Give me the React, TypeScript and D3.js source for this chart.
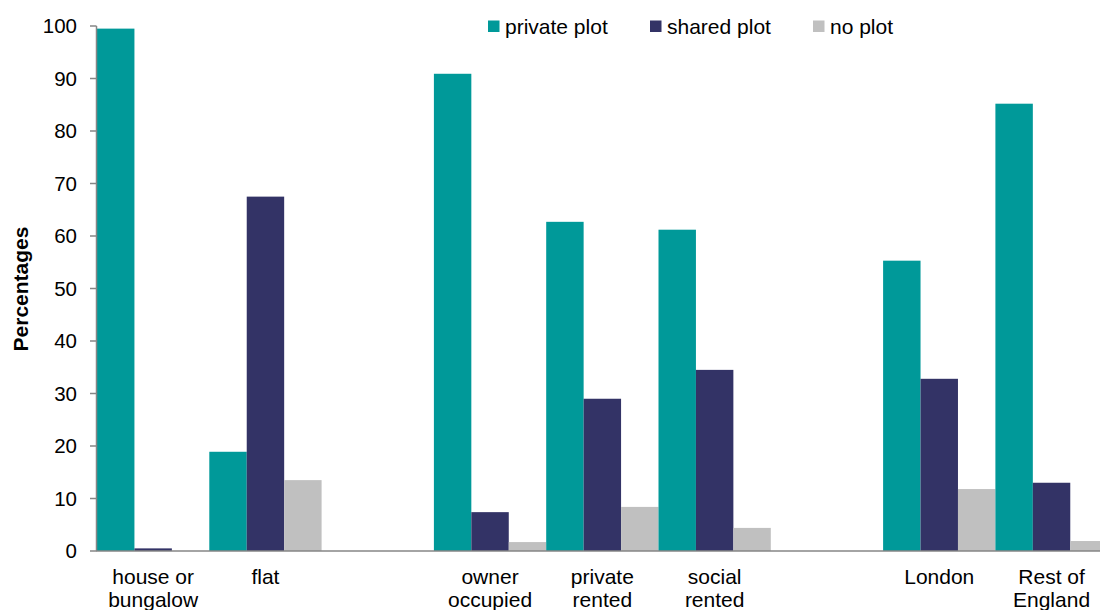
import React from "react";
import * as d3 from "d3";

const categories: string[][] = [
  ["house or", "bungalow"],
  ["flat"],
  [],
  ["owner", "occupied"],
  ["private", "rented"],
  ["social", "rented"],
  [],
  ["London"],
  ["Rest of", "England"],
];
const categoryKeys = ["house", "flat", "gap1", "owner", "privrent", "social", "gap2", "london", "rest"];
const seriesNames = ["private plot", "shared plot", "no plot"];
const seriesColors = ["#009999", "#333366", "#C0C0C0"];
const privatePlot: (number | null)[] = [99.5, 18.9, null, 90.9, 62.7, 61.2, null, 55.3, 85.2];
const sharedPlot: (number | null)[] = [0.5, 67.5, null, 7.4, 29.0, 34.5, null, 32.8, 13.0];
const noPlot: (number | null)[] = [0, 13.5, null, 1.7, 8.4, 4.4, null, 11.8, 1.9];
const yTicks = [0, 10, 20, 30, 40, 50, 60, 70, 80, 90, 100];

const W = 1100;
const H = 610;
const left = 97;
const slot = 112.3;
const FONT = "'Liberation Sans', Arial, sans-serif";

export default function App() {
  const x = d3.scaleBand<string>().domain(categoryKeys).range([left, left + slot * categoryKeys.length]).padding(0);
  const inner = d3.scaleBand<string>().domain(seriesNames).range([0, x.bandwidth()]).padding(0);
  const y = d3.scaleLinear().domain([0, 100]).range([551, 26]);
  const series = [privatePlot, sharedPlot, noPlot];
  const axisColor = "#868686";

  return (
    <svg width={W} height={H} style={{ position: "absolute", left: 0, top: 0, background: "#fff" }} fontFamily={FONT}>
      {categoryKeys.map((k, ci) =>
        series.map((vals, si) => {
          const v = vals[ci];
          if (v === null || v <= 0) return null;
          const x0 = (x(k) as number) + (inner(seriesNames[si]) as number);
          return (
            <rect key={k + si} x={x0} y={y(v)} width={inner.bandwidth()} height={y(0) - y(v)} fill={seriesColors[si]} />
          );
        })
      )}
      <line x1={96.5} x2={96.5} y1={y(100)} y2={y(0)} stroke={axisColor} strokeWidth={1.5} />
      {yTicks.map((t) => (
        <g key={t}>
          <line x1={90} x2={96.5} y1={y(t)} y2={y(t)} stroke={axisColor} strokeWidth={1.5} />
          <text x={77} y={y(t)} dy="0.35em" textAnchor="end" fontSize={20.5} fill="#000">
            {t}
          </text>
        </g>
      ))}
      <line x1={96} x2={W} y1={y(0)} y2={y(0)} stroke={axisColor} strokeWidth={1.5} />
      {categoryKeys.map((k, ci) => {
        const cx = (x(k) as number) + x.bandwidth() / 2;
        return categories[ci].map((line, li) => (
          <text key={k + li} x={cx} y={584 + li * 23} textAnchor="middle" fontSize={21} fill="#000">
            {line}
          </text>
        ));
      })}
      <text transform="translate(28,289) rotate(-90)" textAnchor="middle" fontSize={21} fontWeight="bold" fill="#000">
        Percentages
      </text>
      {seriesNames.map((n, i) => {
        const lx = [488, 650, 813][i];
        return (
          <g key={n}>
            <rect x={lx} y={20.5} width={11.5} height={11.5} fill={seriesColors[i]} />
            <text x={lx + 17} y={33.5} fontSize={21} fill="#000">
              {n}
            </text>
          </g>
        );
      })}
    </svg>
  );
}
